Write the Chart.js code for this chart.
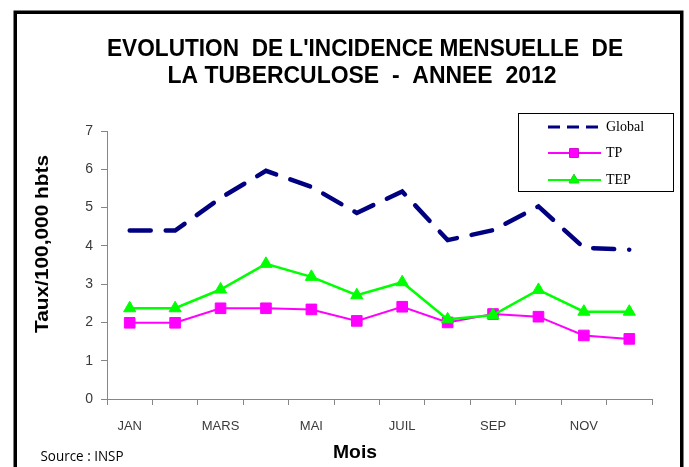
<!DOCTYPE html>
<html>
<head>
<meta charset="utf-8">
<title>Incidence mensuelle de la tuberculose 2012</title>
<script src="https://cdn.jsdelivr.net/npm/chart.js@4/dist/chart.umd.min.js"></script>
<style>
  html, body { margin: 0; padding: 0; background: #fff; }
  canvas { display: block; }
</style>
</head>
<body>
<canvas id="chart" width="689" height="467"></canvas>
<script>
// Monthly incidence of tuberculosis, rate per 100,000 inhabitants (2012)
const months = ['JAN', 'FEV', 'MARS', 'AVR', 'MAI', 'JUIN', 'JUIL', 'AOUT', 'SEP', 'OCT', 'NOV', 'DEC'];
const globalRate = [4.40, 4.40, 5.25, 5.96, 5.54, 4.86, 5.42, 4.15, 4.41, 5.03, 3.95, 3.90];
const tpRate     = [1.99, 1.99, 2.37, 2.37, 2.34, 2.04, 2.41, 2.00, 2.22, 2.15, 1.66, 1.57];
const tepRate    = [2.37, 2.37, 2.86, 3.53, 3.19, 2.71, 3.05, 2.08, 2.19, 2.85, 2.28, 2.28];
const seriesNames = ['Global', 'TP', 'TEP'];
const titleLines = ["EVOLUTION  DE L'INCIDENCE MENSUELLE  DE", 'LA TUBERCULOSE  -  ANNEE  2012'];
const yAxisTitle = 'Taux/100,000 hbts';
const xAxisTitle = 'Mois';
const sourceNote = 'Source : INSP';

const AXIS_GREY = '#868686';
const TICK_TEXT = '#3a3a3a';

// Draw text centred on (x, y), squeezed horizontally to a given width
function fitText(ctx, text, x, y, font, width, vertical) {
  ctx.save();
  ctx.font = font;
  const w = ctx.measureText(text).width;
  ctx.translate(x, y);
  if (vertical) ctx.rotate(-Math.PI / 2);
  ctx.scale(width / w, 1);
  ctx.textAlign = 'center';
  ctx.textBaseline = 'middle';
  ctx.fillStyle = '#000';
  ctx.fillText(text, 0, 0);
  ctx.restore();
}

// Page frame behind the chart
const framePlugin = {
  id: 'frame',
  beforeDraw(chart) {
    const ctx = chart.ctx;
    ctx.save();
    ctx.fillStyle = '#fff';
    ctx.fillRect(0, 0, chart.width, chart.height);
    ctx.strokeStyle = '#000';
    ctx.lineWidth = 3.5;
    ctx.strokeRect(15.25, 12.25, 666.5, chart.height + 20);
    ctx.restore();
  }
};

// Titles, source note and the boxed legend
const captionsPlugin = {
  id: 'captions',
  afterDraw(chart) {
    const ctx = chart.ctx;
    fitText(ctx, titleLines[0], 365, 50, 'bold 23px "Liberation Sans", Arial, sans-serif', 516);
    fitText(ctx, titleLines[1], 362, 77, 'bold 23px "Liberation Sans", Arial, sans-serif', 389);
    fitText(ctx, yAxisTitle, 43, 244, 'bold 19px "Liberation Sans", Arial, sans-serif', 178, true);
    fitText(ctx, xAxisTitle, 355, 453, 'bold 19px "Liberation Sans", Arial, sans-serif', 44);
    fitText(ctx, sourceNote, 82, 457, '14px "Open Sans", sans-serif', 83);

    // legend box
    ctx.save();
    ctx.fillStyle = '#fff';
    ctx.fillRect(518, 113, 155, 78);
    ctx.strokeStyle = '#000';
    ctx.lineWidth = 1;
    ctx.strokeRect(518.5, 113.5, 155, 78);
    const rows = [127, 153, 180];
    chart.data.datasets.forEach((ds, i) => {
      const y = rows[i];
      ctx.save();
      ctx.strokeStyle = ds.borderColor;
      ctx.lineWidth = i === 0 ? 3 : 2;
      ctx.setLineDash(i === 0 ? [12, 7] : []);
      ctx.beginPath();
      ctx.moveTo(548, y);
      ctx.lineTo(601, y);
      ctx.stroke();
      ctx.restore();
      if (ds.pointRadius > 0) {
        Chart.helpers.drawPoint(ctx, {
          pointStyle: ds.pointStyle,
          radius: ds.pointRadius * 0.8,
          rotation: 0,
          borderWidth: 1
        }, 574, y);
        ctx.fillStyle = ds.backgroundColor;
        ctx.strokeStyle = ds.borderColor;
        ctx.fill();
        ctx.stroke();
      }
      ctx.font = '14px "Liberation Serif", "Times New Roman", serif';
      ctx.fillStyle = '#000';
      ctx.textAlign = 'left';
      ctx.textBaseline = 'middle';
      ctx.fillText(ds.label, 606, y);
    });
    ctx.restore();
  }
};

new Chart(document.getElementById('chart'), {
  type: 'line',
  data: {
    labels: months,
    datasets: [
      {
        label: seriesNames[0],
        data: globalRate,
        borderColor: '#000080',
        backgroundColor: '#000080',
        borderWidth: 4.5,
        borderDash: [21, 15],
        borderCapStyle: 'round',
        pointRadius: 0,
        order: 2
      },
      {
        label: seriesNames[1],
        data: tpRate,
        borderColor: '#ff00ff',
        backgroundColor: '#ff00ff',
        borderWidth: 2,
        pointStyle: 'rect',
        pointRadius: 7.5,
        pointBorderWidth: 1,
        order: 1
      },
      {
        label: seriesNames[2],
        data: tepRate,
        borderColor: '#00ff00',
        backgroundColor: '#00ff00',
        borderWidth: 2.5,
        pointStyle: 'triangle',
        pointRadius: 7,
        pointBorderWidth: 1,
        order: 0
      }
    ]
  },
  options: {
    responsive: false,
    animation: false,
    devicePixelRatio: 1,
    layout: { padding: { left: 0, top: 131, right: 37, bottom: 0 } },
    elements: { line: { tension: 0 } },
    plugins: {
      legend: { display: false },
      title: { display: false },
      tooltip: { enabled: false }
    },
    scales: {
      x: {
        type: 'category',
        offset: true,
        afterFit(scale) { scale.height = 68; },
        border: { display: true, color: AXIS_GREY, width: 1 },
        grid: { display: true, offset: true, drawOnChartArea: false, drawTicks: true, tickLength: 6, color: AXIS_GREY },
        ticks: {
          autoSkip: false,
          maxRotation: 0,
          padding: 14,
          color: TICK_TEXT,
          font: { family: '"Liberation Sans", Arial, sans-serif', size: 13 },
          callback(value, index) { return index % 2 === 0 ? months[index] : ''; }
        }
      },
      y: {
        min: 0,
        max: 7,
        afterFit(scale) { scale.width = 107; },
        border: { display: true, color: AXIS_GREY, width: 1 },
        grid: { display: true, drawOnChartArea: false, drawTicks: true, tickLength: 6, color: AXIS_GREY },
        ticks: {
          stepSize: 1,
          padding: 8,
          color: TICK_TEXT,
          font: { family: '"Liberation Sans", Arial, sans-serif', size: 14 }
        }
      }
    }
  },
  plugins: [framePlugin, captionsPlugin]
});
</script>
</body>
</html>
